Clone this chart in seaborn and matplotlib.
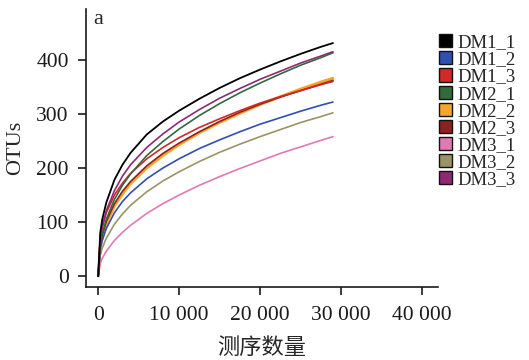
import numpy as np
import pandas as pd
import seaborn as sns
import matplotlib
matplotlib.use("Agg")
import matplotlib.pyplot as plt
from matplotlib.patches import Patch
from matplotlib.ticker import FuncFormatter

# sequencing depth (x) and OTU counts
depth = [0, 250, 500, 1000, 2000, 3000, 4000, 6000, 8000, 10000,
         12500, 15000, 17500, 20000, 22500, 25000, 27500, 29000]

dm1_1 = [0, 80, 105, 136, 178, 206, 228, 262, 286, 306, 328, 348, 366, 382, 397, 411, 424, 431]
dm1_2 = [0, 50, 66, 88, 117, 138, 154, 180, 200, 217, 236, 252, 267, 281, 293, 305, 316, 322]
dm1_3 = [0, 70, 90, 117, 150, 172, 190, 217, 238, 256, 275, 291, 306, 320, 332, 343, 354, 360]
dm2_1 = [0, 58, 78, 105, 142, 168, 189, 223, 249, 272, 297, 319, 339, 357, 374, 390, 404, 413]
dm2_2 = [0, 54, 72, 96, 129, 152, 171, 200, 223, 243, 265, 284, 301, 317, 332, 346, 359, 366]
dm2_3 = [0, 58, 76, 101, 134, 157, 175, 204, 227, 246, 267, 286, 303, 318, 331, 343, 355, 362]
dm3_1 = [0, 23, 33, 46, 66, 81, 94, 116, 134, 150, 168, 184, 199, 213, 227, 239, 251, 258]
dm3_2 = [0, 38, 52, 70, 96, 115, 131, 156, 176, 193, 212, 229, 244, 258, 271, 284, 295, 302]
dm3_3 = [0, 70, 92, 121, 158, 185, 206, 238, 263, 285, 308, 329, 347, 364, 379, 394, 407, 415]

samples = ["DM1_1", "DM1_2", "DM1_3", "DM2_1", "DM2_2", "DM2_3", "DM3_1", "DM3_2", "DM3_3"]
series = [dm1_1, dm1_2, dm1_3, dm2_1, dm2_2, dm2_3, dm3_1, dm3_2, dm3_3]
colors = ["#000000", "#2f4fb3", "#d2282c", "#2f6b3c", "#f5a52a",
          "#8a2222", "#e07ab4", "#9a9466", "#8e2a74"]
widths = [1.3, 1.2, 1.2, 1.2, 2.0, 1.2, 1.2, 1.2, 1.2]

rows = []
for name, vals in zip(samples, series):
    for x, y in zip(depth, vals):
        rows.append((name, x, y))
df = pd.DataFrame(rows, columns=["sample", "depth", "otus"])

sns.set_style("ticks")
plt.rcParams['font.family'] = ['Liberation Serif', 'Noto Sans CJK SC']

fig = plt.figure(figsize=(5.29, 3.60), dpi=100)
ax = fig.add_axes([0.163, 0.203, 0.665, 0.772])

palette = dict(zip(samples, colors))
# draw orange first so the dark red sits on top of it
order = ["DM2_2", "DM3_1", "DM3_2", "DM1_2", "DM2_3", "DM1_3", "DM2_1", "DM3_3", "DM1_1"]
for s in order:
    sub = df[df["sample"] == s]
    sns.lineplot(data=sub, x="depth", y="otus", color=palette[s],
                 lw=widths[samples.index(s)], ax=ax, legend=False)

ax.set_xlim(-1480, 41975)
ax.set_ylim(-20, 494)
ax.set_xticks([0, 10000, 20000, 30000, 40000])
ax.set_yticks([0, 100, 200, 300, 400])
ax.xaxis.set_major_formatter(FuncFormatter(lambda v, p: f"{int(v):,}".replace(",", " ")))
ax.tick_params(labelsize=15.5, length=5.5, width=1.2, direction="out", colors="#1a1a1a")
ax.tick_params(axis="y", pad=7)
ax.tick_params(axis="x", pad=8)
for sp in ["left", "bottom"]:
    ax.spines[sp].set_linewidth(1.2)
    ax.spines[sp].set_color("#1a1a1a")
sns.despine(ax=ax)

ax.set_xlabel("测序数量", fontsize=16, family=['Noto Sans CJK SC'], labelpad=8)
ax.set_ylabel("OTUs", fontsize=16, labelpad=8)
ax.text(0.02, 0.995, "a", transform=ax.transAxes, fontsize=16, va="top", ha="left")

handles = [Patch(facecolor=c, edgecolor="#111111", lw=1.0) for c in colors]
fig.legend(handles, samples, loc="upper left", bbox_to_anchor=(0.830, 0.905),
           bbox_transform=fig.transFigure, frameon=False, fontsize=13.5,
           handlelength=0.7, handleheight=0.7, handletextpad=0.3,
           labelspacing=0.0, borderpad=0, borderaxespad=0)

fig.savefig("out.png", dpi=100)
